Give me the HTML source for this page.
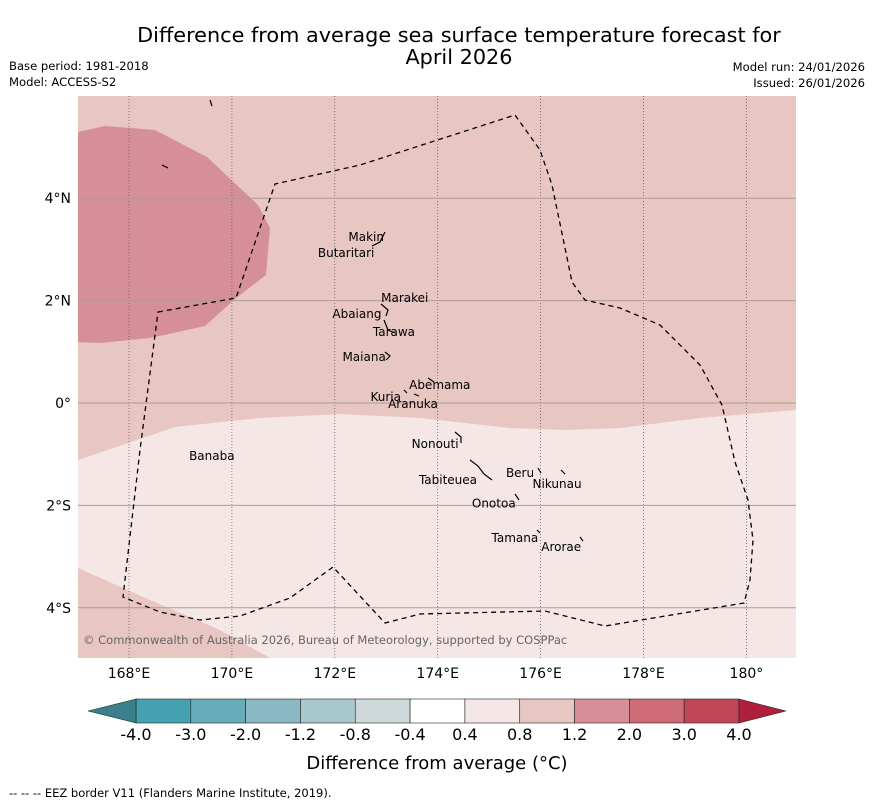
<!DOCTYPE html>
<html><head><meta charset="utf-8"><style>
body{margin:0;background:#fff;width:873px;height:804px;overflow:hidden;font-family:"Liberation Sans","DejaVu Sans",sans-serif}
</style></head><body>
<svg id="svg" width="873" height="804" xmlns="http://www.w3.org/2000/svg" font-family="DejaVu Sans, Liberation Sans, sans-serif">
<text x="459" y="42" text-anchor="middle" font-size="20.8">Difference from average sea surface temperature forecast for</text>
<text x="459" y="64" text-anchor="middle" font-size="20.8">April 2026</text>
<text x="9" y="70" font-size="11.6">Base period: 1981-2018</text>
<text x="9" y="86" font-size="11.6">Model: ACCESS-S2</text>
<text x="865" y="71" font-size="11.6" text-anchor="end">Model run: 24/01/2026</text>
<text x="865" y="87" font-size="11.6" text-anchor="end">Issued: 26/01/2026</text>
<defs><clipPath id="mc"><rect x="78" y="96" width="718" height="562"/></clipPath></defs>
<g clip-path="url(#mc)">
<rect x="78" y="96" width="718" height="562" fill="#e8c6c2"/>
<path d="M78,132 L105,126 L155,130 L207,157 L258,205 L270,228 L266,275 L236,298 L205,326 L150,338 L100,343 L78,342Z" fill="#d68f96"/>
<path d="M78,460 L175,427 L260,418 L340,414 L420,418 L510,428 L565,430 L620,428 L700,418 L796,410 L796,658 L78,658Z" fill="#f5e7e6"/>
<path d="M78,568 L150,600 L220,630 L270,658 L78,658Z" fill="#e8c6c2"/>
<g id="grid"></g>
<path d="M158,312 L236,298 L275,184 L360,165 L515,115 L540,150 L552,185 L572,282 L585,300 L620,308 L660,325 L700,365 L722,405 L735,462 L748,500 L753,540 L750,580 L744,603 L605,626 L545,611 L420,614 L385,623 L333,567 L290,598 L240,616 L200,620 L160,612 L123,597 L140,450 Z" fill="none" stroke="#000" stroke-width="1.3" stroke-dasharray="5,4"/>
<g fill="none" stroke="#000" stroke-width="1.2">
<path d="M372,246 L380,242 L385,232"/><path d="M381,304 L388,310 L386,316"/><path d="M384,320 L388,330 L395,333"/><path d="M385,352 L390,356 L386,360"/><path d="M428,378 L434,382"/><path d="M404,390 L407,393"/><path d="M414,394 L419,396"/><path d="M455,432 L461,437 L461,443"/><path d="M470,460 L478,466 L484,474 L492,480"/><path d="M538,468 L541,473"/><path d="M561,470 L565,474"/><path d="M515,494 L519,500"/><path d="M537,530 L540,533"/><path d="M580,537 L583,541"/><path d="M162,165 L168,168"/><path d="M210,100 L212,106"/>
</g>
<g id="isl" font-size="12" fill="#000"></g>
<text x="83" y="644" font-size="11.5" fill="#666">© Commonwealth of Australia 2026, Bureau of Meteorology, supported by COSPPac</text>
</g>
<g id="axes" font-size="14"></g>
<g id="cbar"></g>
<text x="437" y="769" text-anchor="middle" font-size="18">Difference from average (°C)</text>
<text x="9" y="797" font-size="11.5">--  --  -- EEZ border V11 (Flanders Marine Institute, 2019).</text>
</svg>
<script>
const lonTicks=[168,170,172,174,176,178,180];
const lonLabels=["168°E","170°E","172°E","174°E","176°E","178°E","180°"];
const latTicks=[4,2,0,-2,-4];
const latLabels=["4°N","2°N","0°","2°S","4°S"];
const levels=["-4.0","-3.0","-2.0","-1.2","-0.8","-0.4","0.4","0.8","1.2","2.0","3.0","4.0"];
const colors=["#45a0b0","#68acba","#8ab9c4","#a9c8cc","#cdd9da","#ffffff","#f5e7e6","#e8c6c2","#d68f96","#cd6b76","#c14655"];
const islandNames=["Makin","Butaritari","Marakei","Abaiang","Tarawa","Maiana","Abemama","Kuria","Aranuka","Nonouti","Banaba","Tabiteuea","Beru","Nikunau","Onotoa","Tamana","Arorae"];
const islandLon=[172.61,172.22,173.36,172.43,173.15,172.57,174.04,172.99,173.52,173.95,169.61,174.20,175.60,176.32,175.09,175.50,176.40];
const islandLat=[3.32,3.01,2.13,1.82,1.46,0.98,0.43,0.20,0.06,-0.72,-0.96,-1.43,-1.29,-1.50,-1.88,-2.56,-2.73];
const NS="http://www.w3.org/2000/svg";
const X=l=>129+(l-168)*51.45, Y=l=>403-l*51.2;
function mk(t,a,p){const e=document.createElementNS(NS,t);for(const k in a)e.setAttribute(k,a[k]);p.appendChild(e);return e;}
const grid=document.getElementById('grid'),axes=document.getElementById('axes');
lonTicks.forEach((l,i)=>{
 const g=mk('line',{x1:X(l),x2:X(l),y1:96,y2:658,stroke:'#556',"stroke-width":0.7,"stroke-dasharray":"1,2"},grid);
 
 
 const t=mk('text',{x:X(l),y:678,"text-anchor":"middle"},axes);t.textContent=lonLabels[i];
 
 
});
latTicks.forEach((l,i)=>{
 const g=mk('line',{x1:78,x2:796,y1:Y(l),y2:Y(l),stroke:'#b09a96',"stroke-width":1},grid);
 
 
 const t=mk('text',{x:71,y:Y(l)+5,"text-anchor":"end"},axes);t.textContent=latLabels[i];
 
 
});
const isl=document.getElementById('isl');
islandNames.forEach((n,i)=>{
 const t=mk('text',{x:X(islandLon[i]),y:Y(islandLat[i])+8,"text-anchor":"middle"},isl);t.textContent=n;
 
 
});
const cb=document.getElementById('cbar');const x0=136,x1=739,w=(x1-x0)/colors.length,yt=699,h=24;
colors.forEach((c,i)=>{
 const r=mk('rect',{x:x0+i*w,y:yt,width:w,height:h,fill:c,stroke:'#222',"stroke-width":0.6},cb);
 
 
});
let a=mk('polygon',{points:`${x0},${yt} 88,${yt+h/2} ${x0},${yt+h}`,fill:'#3a7f8b',stroke:'#222',"stroke-width":0.6},cb);


a=mk('polygon',{points:`${x1},${yt} 786,${yt+h/2} ${x1},${yt+h}`,fill:'#b0203c',stroke:'#222',"stroke-width":0.6},cb);


levels.forEach((l,i)=>{
 const t=mk('text',{x:x0+i*w,y:740,"text-anchor":"middle","font-size":16},cb);t.textContent=l;
 
 
});
</script>
</body></html>
